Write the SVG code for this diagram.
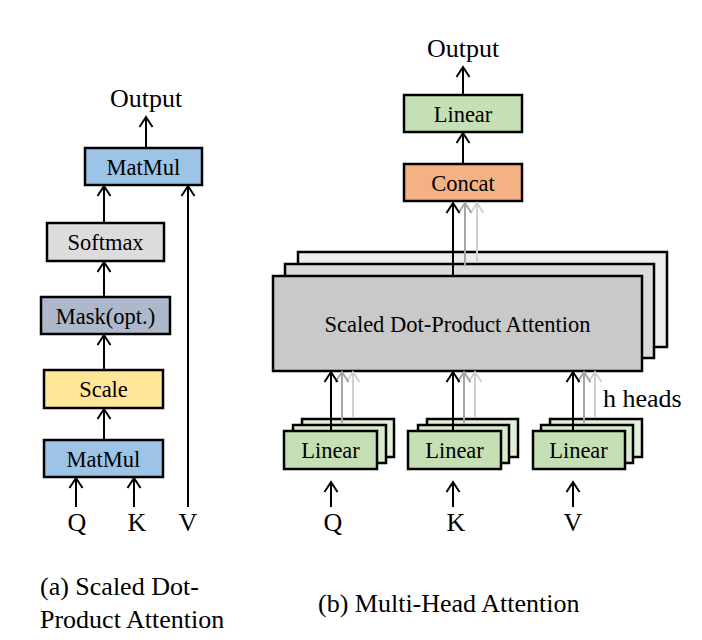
<svg xmlns="http://www.w3.org/2000/svg" width="702" height="640" viewBox="0 0 702 640">
<defs>
<style>
.box{stroke:#000;stroke-width:2.5}
.t{font-family:"Liberation Serif","Times New Roman",serif;fill:#000}
.bt{font-size:22.5px;text-anchor:middle}
.lb{font-size:26px}
.c{text-anchor:middle}
.ln{fill:none;stroke-width:2}
.k{stroke:#000}
.g{stroke:#A6A6A6}
.lg{stroke:#D0D0D0}
</style>
<marker id="ak" viewBox="-12 -8 14 16" refX="0" refY="0" markerWidth="14" markerHeight="16" orient="auto" markerUnits="userSpaceOnUse"><path d="M-10,-6.5 L0,0 L-10,6.5" fill="none" stroke="#000" stroke-width="2"/></marker>
<marker id="ag" viewBox="-12 -8 14 16" refX="0" refY="0" markerWidth="14" markerHeight="16" orient="auto" markerUnits="userSpaceOnUse"><path d="M-10,-6.5 L0,0 L-10,6.5" fill="none" stroke="#A6A6A6" stroke-width="2"/></marker>
<marker id="al" viewBox="-12 -8 14 16" refX="0" refY="0" markerWidth="14" markerHeight="16" orient="auto" markerUnits="userSpaceOnUse"><path d="M-10,-6.5 L0,0 L-10,6.5" fill="none" stroke="#D0D0D0" stroke-width="2"/></marker>
</defs>
<rect width="702" height="640" fill="#fff"/>

<!-- Left: Scaled Dot-Product Attention -->
<g id="a-output"><text class="t lb c" x="146" y="107">Output</text></g>
<g id="a-matmul-top"><rect class="box" x="85" y="148" width="117" height="37" fill="#9DC3E6"/><text class="t bt" x="143.5" y="175">MatMul</text></g>
<g id="a-softmax"><rect class="box" x="47" y="223" width="117" height="38" fill="#DCDCDC"/><text class="t bt" x="105.5" y="250">Softmax</text></g>
<g id="a-mask"><rect class="box" x="41" y="297" width="129" height="37" fill="#ADB9CA"/><text class="t bt" x="105.5" y="324">Mask(opt.)</text></g>
<g id="a-scale"><rect class="box" x="44" y="370" width="119" height="38" fill="#FFE699"/><text class="t bt" x="103.5" y="397">Scale</text></g>
<g id="a-matmul-bottom"><rect class="box" x="44" y="440" width="119" height="37" fill="#9DC3E6"/><text class="t bt" x="103.5" y="467">MatMul</text></g>
<g id="a-q"><text class="t lb c" x="77" y="531">Q</text></g>
<g id="a-k"><text class="t lb c" x="137" y="531">K</text></g>
<g id="a-v"><text class="t lb c" x="188" y="531">V</text></g>

<!-- Right: Multi-Head Attention -->
<g id="b-output"><text class="t lb c" x="463" y="57">Output</text></g>
<g id="b-linear-top"><rect class="box" x="404" y="95" width="118" height="37" fill="#C5E0B4"/><text class="t bt" x="463" y="122">Linear</text></g>
<g id="b-concat"><rect class="box" x="404" y="164" width="118" height="37" fill="#F4B183"/><text class="t bt" x="463" y="191">Concat</text></g>
<g id="b-sdpa">
<rect class="box" x="298" y="252" width="369" height="95" fill="#EDEDED"/>
<rect class="box" x="285" y="264" width="369" height="94" fill="#DBDBDB"/>
<rect class="box" x="273" y="276" width="369" height="95" fill="#C9C9C9"/>
<text class="t bt" x="457.5" y="332">Scaled Dot-Product Attention</text>
</g>
<g id="b-linear-q">
<rect class="box" x="302" y="419" width="92" height="38" fill="#E2F0D9"/>
<rect class="box" x="293" y="425" width="93" height="38" fill="#D6EBCB"/>
<rect class="box" x="284" y="431" width="93" height="38" fill="#C5E0B4"/>
<text class="t bt" x="330.5" y="458">Linear</text>
</g>
<g id="b-linear-k">
<rect class="box" x="427" y="419" width="91" height="38" fill="#E2F0D9"/>
<rect class="box" x="418" y="425" width="91" height="38" fill="#D6EBCB"/>
<rect class="box" x="408" y="431" width="93" height="38" fill="#C5E0B4"/>
<text class="t bt" x="454.5" y="458">Linear</text>
</g>
<g id="b-linear-v">
<rect class="box" x="550" y="419" width="92" height="38" fill="#E2F0D9"/>
<rect class="box" x="541" y="425" width="92" height="38" fill="#D6EBCB"/>
<rect class="box" x="533" y="431" width="92" height="38" fill="#C5E0B4"/>
<text class="t bt" x="578.5" y="458">Linear</text>
</g>
<g id="b-heads"><text class="t lb" x="603" y="407">h heads</text></g>
<g id="b-q"><text class="t lb c" x="333" y="531">Q</text></g>
<g id="b-k"><text class="t lb c" x="456" y="531">K</text></g>
<g id="b-v"><text class="t lb c" x="573" y="531">V</text></g>

<!-- Captions -->
<g id="caption-a"><text class="t lb" x="40" y="595">(a) Scaled Dot-</text><text class="t lb" x="40" y="628">Product Attention</text></g>
<g id="caption-b"><text class="t lb" x="318" y="612">(b) Multi-Head Attention</text></g>

<g id="connectors">
<!-- left -->
<line class="ln k" x1="146" y1="148" x2="146" y2="117" marker-end="url(#ak)"/>
<line class="ln k" x1="104" y1="223" x2="104" y2="186" marker-end="url(#ak)"/>
<line class="ln k" x1="104" y1="297" x2="104" y2="262" marker-end="url(#ak)"/>
<line class="ln k" x1="104" y1="370" x2="104" y2="335" marker-end="url(#ak)"/>
<line class="ln k" x1="104" y1="440" x2="104" y2="409" marker-end="url(#ak)"/>
<line class="ln k" x1="76" y1="507" x2="76" y2="478" marker-end="url(#ak)"/>
<line class="ln k" x1="134" y1="507" x2="134" y2="478" marker-end="url(#ak)"/>
<line class="ln k" x1="188" y1="507" x2="188" y2="186" marker-end="url(#ak)"/>
<!-- right top -->
<line class="ln k" x1="463" y1="95" x2="463" y2="67" marker-end="url(#ak)"/>
<line class="ln k" x1="463" y1="164" x2="463" y2="133" marker-end="url(#ak)"/>
<line class="ln lg" x1="477" y1="263" x2="477" y2="203" marker-end="url(#al)"/>
<line class="ln g" x1="465" y1="266" x2="465" y2="203" marker-end="url(#ag)"/>
<line class="ln k" x1="453" y1="276" x2="453" y2="203" marker-end="url(#ak)"/>
<!-- linear to sdpa -->
<line class="ln lg" x1="353" y1="418" x2="353" y2="372" marker-end="url(#al)"/>
<line class="ln g" x1="342" y1="424" x2="342" y2="372" marker-end="url(#ag)"/>
<line class="ln k" x1="331" y1="431" x2="331" y2="372" marker-end="url(#ak)"/>
<line class="ln lg" x1="475" y1="418" x2="475" y2="372" marker-end="url(#al)"/>
<line class="ln g" x1="464" y1="424" x2="464" y2="372" marker-end="url(#ag)"/>
<line class="ln k" x1="453" y1="431" x2="453" y2="372" marker-end="url(#ak)"/>
<line class="ln lg" x1="595" y1="418" x2="595" y2="372" marker-end="url(#al)"/>
<line class="ln g" x1="584" y1="424" x2="584" y2="372" marker-end="url(#ag)"/>
<line class="ln k" x1="573" y1="431" x2="573" y2="372" marker-end="url(#ak)"/>
<!-- inputs -->
<line class="ln k" x1="331" y1="507" x2="331" y2="482" marker-end="url(#ak)"/>
<line class="ln k" x1="453" y1="507" x2="453" y2="482" marker-end="url(#ak)"/>
<line class="ln k" x1="573" y1="507" x2="573" y2="482" marker-end="url(#ak)"/>
</g>
</svg>
